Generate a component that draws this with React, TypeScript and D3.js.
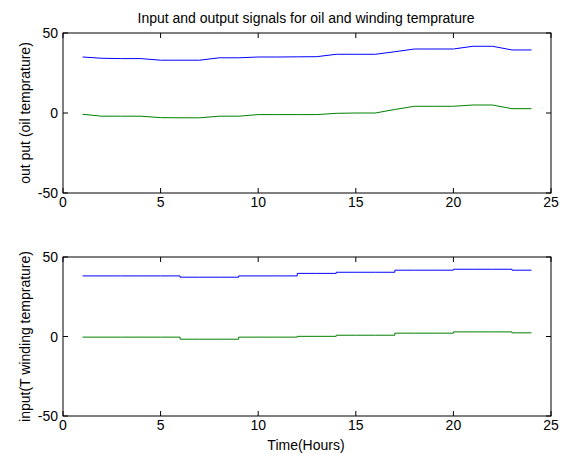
import React from "react";
import * as d3 from "d3";

const hours = d3.range(1, 25);
// top panel: output (oil temperature)
const outBlue = [35, 34.2, 34, 34, 33, 33, 33, 34.5, 34.5, 35, 35, 35.1, 35.2, 36.7, 36.7, 36.7, 38.3, 40, 40, 40, 41.7, 41.7, 39.4, 39.4];
const outGreen = [-0.8, -2, -2, -2, -2.9, -3, -3, -2, -2, -1, -1, -1, -1, -0.2, 0, 0, 2.2, 4.2, 4.2, 4.2, 5, 5, 2.7, 2.7];
// bottom panel: input (T winding temperature), drawn as stairs
const inBlue = [38.1, 38.1, 38.1, 38.1, 38.1, 37.3, 37.3, 37.3, 38.1, 38.1, 38.1, 39.7, 39.7, 40.4, 40.4, 40.4, 41.7, 41.7, 41.7, 42.3, 42.3, 42.3, 41.7, 41.7];
const inGreen = [-0.4, -0.4, -0.4, -0.4, -0.4, -1.7, -1.7, -1.7, -0.4, -0.4, -0.4, 0.1, 0.1, 0.8, 0.8, 0.8, 2.1, 2.1, 2.1, 2.9, 2.9, 2.9, 2.3, 2.3];

const xTicks = [0, 5, 10, 15, 20, 25];
const yTicks = [-50, 0, 50];

const W = 563, H = 454;
const left = 63, right = 551;
const panels = [
  { top: 33, bottom: 193, series: [outBlue, outGreen], stairs: false, ylabel: "out put (oil temprature)" },
  { top: 257, bottom: 416, series: [inBlue, inGreen], stairs: true, ylabel: "input(T winding temprature)" },
];
const colors = ["#0000ff", "#008000"];
const font = "'Liberation Sans', Arial, sans-serif";
const fs = 14;

function Panel({ p }: { p: typeof panels[0] }) {
  const x = d3.scaleLinear().domain([0, 25]).range([left, right]);
  const y = d3.scaleLinear().domain([-50, 50]).range([p.bottom, p.top]);
  const line = d3
    .line<number>()
    .x((_, i) => x(hours[i]))
    .y((d) => y(d))
    .curve(p.stairs ? d3.curveStepAfter : d3.curveLinear);
  const tl = 5;
  const cy = (p.top + p.bottom) / 2;
  return (
    <g>
      <rect x={left} y={p.top} width={right - left} height={p.bottom - p.top} fill="white" stroke="none" />
      {p.series.map((s, k) => (
        <path key={k} d={line(s) || ""} fill="none" stroke={colors[k]} strokeWidth={1} />
      ))}
      {xTicks.map((t) => (
        <g key={"x" + t}>
          <line x1={x(t)} x2={x(t)} y1={p.bottom} y2={p.bottom - tl} stroke="black" />
          <line x1={x(t)} x2={x(t)} y1={p.top} y2={p.top + tl} stroke="black" />
          <text x={x(t)} y={p.bottom + 13.5} textAnchor="middle" fontSize={fs} fontFamily={font}>
            {t}
          </text>
        </g>
      ))}
      {yTicks.map((t) => (
        <g key={"y" + t}>
          <line x1={left} x2={left + tl} y1={y(t)} y2={y(t)} stroke="black" />
          <line x1={right} x2={right - tl} y1={y(t)} y2={y(t)} stroke="black" />
          <text x={left - 5} y={y(t) + 5} textAnchor="end" fontSize={fs} fontFamily={font}>
            {t}
          </text>
        </g>
      ))}
      <rect x={left} y={p.top} width={right - left} height={p.bottom - p.top} fill="none" stroke="black" strokeWidth={1} />
      <text
        transform={`translate(30,${cy}) rotate(-90)`}
        textAnchor="middle"
        fontSize={fs}
        fontFamily={font}
      >
        {p.ylabel}
      </text>
    </g>
  );
}

export default function App() {
  return (
    <svg width={W} height={H} style={{ position: "absolute", left: 0, top: 0, background: "white" }}>
      <rect width={W} height={H} fill="white" />
      <text x={306} y={23} textAnchor="middle" fontSize={fs} fontFamily={font}>
        Input and output signals for oil and winding temprature
      </text>
      {panels.map((p, i) => (
        <Panel key={i} p={p} />
      ))}
      <text x={306} y={450} textAnchor="middle" fontSize={fs} fontFamily={font}>
        Time(Hours)
      </text>
    </svg>
  );
}
